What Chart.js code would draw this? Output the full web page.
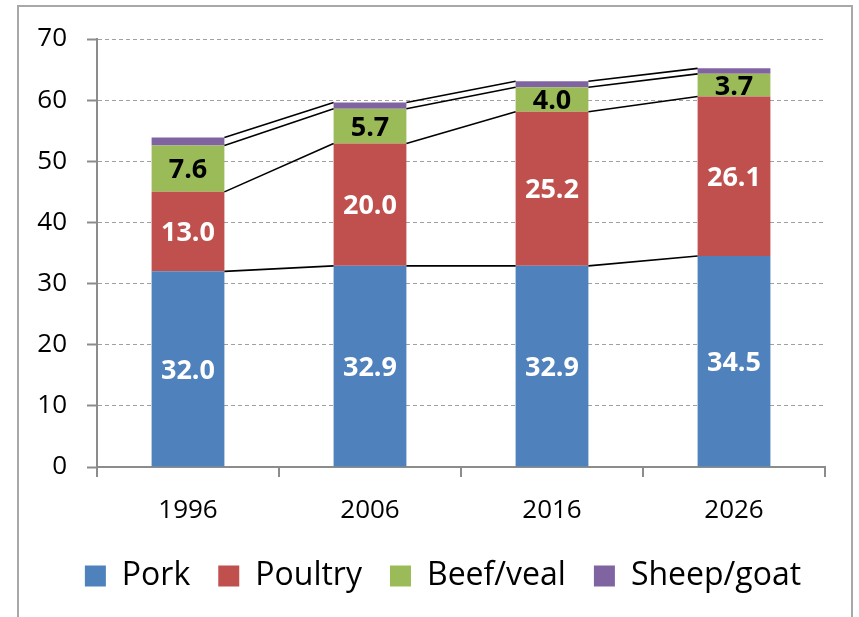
<!DOCTYPE html>
<html><head><meta charset="utf-8">
<script src="https://cdn.jsdelivr.net/npm/chart.js@4"></script>
<style>
html,body{margin:0;padding:0;background:#fff;}
#wrap{position:relative;width:859px;height:617px;overflow:hidden;}
#frame{position:absolute;left:17px;top:5px;width:836px;height:640px;border:2px solid #a8a8a8;box-sizing:border-box;}
canvas{position:absolute;left:0;top:0;}
</style></head><body>
<div id="wrap"><div id="frame"></div><canvas id="c" width="859" height="617"></canvas></div>
<script>
const years = ['1996', '2006', '2016', '2026'];
const pork = [32.0, 32.9, 32.9, 34.5];
const poultry = [13.0, 20.0, 25.2, 26.1];
const beefVeal = [7.6, 5.7, 4.0, 3.7];
const sheepGoat = [1.3, 1.0, 1.0, 0.9];
const seriesNames = ['Pork', 'Poultry', 'Beef/veal', 'Sheep/goat'];
const seriesValues = [pork, poultry, beefVeal, sheepGoat];
const colors = ['#4F81BD', '#C0504D', '#9BBB59', '#8064A2'];
const labelColors = ['#ffffff', '#ffffff', '#000000', null];
const yMin = 0, yMax = 70, yStep = 10;

const FONT = '"Open Sans", "Noto Sans", sans-serif';
const LEGEND_CENTER_X = 443;

const connectors = {
  id: 'connectors',
  afterDatasetsDraw(chart) {
    const ctx = chart.ctx;
    ctx.save();
    ctx.strokeStyle = '#000';
    ctx.lineWidth = 1.6;
    chart.data.datasets.forEach((ds, di) => {
      const meta = chart.getDatasetMeta(di);
      for (let i = 0; i < meta.data.length - 1; i++) {
        const a = meta.data[i], b = meta.data[i + 1];
        ctx.beginPath();
        ctx.moveTo(a.x + a.width / 2, a.y);
        ctx.lineTo(b.x - b.width / 2, b.y);
        ctx.stroke();
      }
    });
    ctx.restore();
  }
};

const valueLabels = {
  id: 'valueLabels',
  afterDatasetsDraw(chart) {
    const ctx = chart.ctx;
    ctx.save();
    ctx.font = 'bold 27px ' + FONT;
    ctx.textAlign = 'center';
    ctx.textBaseline = 'middle';
    chart.data.datasets.forEach((ds, di) => {
      if (!labelColors[di]) return;
      const meta = chart.getDatasetMeta(di);
      ctx.fillStyle = labelColors[di];
      meta.data.forEach((el, i) => {
        ctx.fillText(ds.data[i].toFixed(1), el.x, (el.y + el.base) / 2 + 2);
      });
    });
    ctx.restore();
  }
};

const legendShift = {
  id: 'legendShift',
  afterLayout(chart) {
    const lg = chart.legend;
    if (!lg) return;
    const cur = (lg.left + lg.right) / 2;
    const d = LEGEND_CENTER_X - cur;
    lg.left += d; lg.right += d;
  }
};

new Chart(document.getElementById('c'), {
  type: 'bar',
  data: {
    labels: years,
    datasets: seriesNames.map((n, i) => ({
      label: n,
      data: seriesValues[i],
      backgroundColor: colors[i],
      borderWidth: 0,
      categoryPercentage: 1.0,
      barPercentage: 0.4
    }))
  },
  options: {
    responsive: false,
    animation: false,
    devicePixelRatio: 1,
    layout: { padding: { left: 0, right: 34, top: 39, bottom: 15 } },
    plugins: {
      tooltip: { enabled: false },
      legend: {
        position: 'bottom',
        labels: {
          color: '#000',
          font: { family: FONT, size: 32 },
          boxWidth: 21,
          boxHeight: 21,
          padding: 28
        }
      }
    },
    scales: {
      x: {
        stacked: true,
        afterFit(s) { s.height = 65; },
        grid: { drawOnChartArea: false, drawTicks: true, tickLength: 10, color: '#8c8c8c', lineWidth: 2, offset: true },
        border: { color: '#8c8c8c', width: 2 },
        ticks: { color: '#000', font: { family: FONT, size: 26 }, padding: 18 }
      },
      y: {
        stacked: true,
        min: yMin, max: yMax,
        afterFit(s) { s.width = 97; },
        grid: { color: '#a0a0a0', lineWidth: 1, drawTicks: true, tickLength: 10, tickColor: '#8c8c8c', tickWidth: 2, tickBorderDash: [] },
        border: { color: '#8c8c8c', width: 2, dash: [4, 3] },
        ticks: { stepSize: yStep, color: '#000', font: { family: FONT, size: 26 }, padding: 20 }
      }
    }
  },
  plugins: [connectors, valueLabels, legendShift]
});
</script>
</body></html>
